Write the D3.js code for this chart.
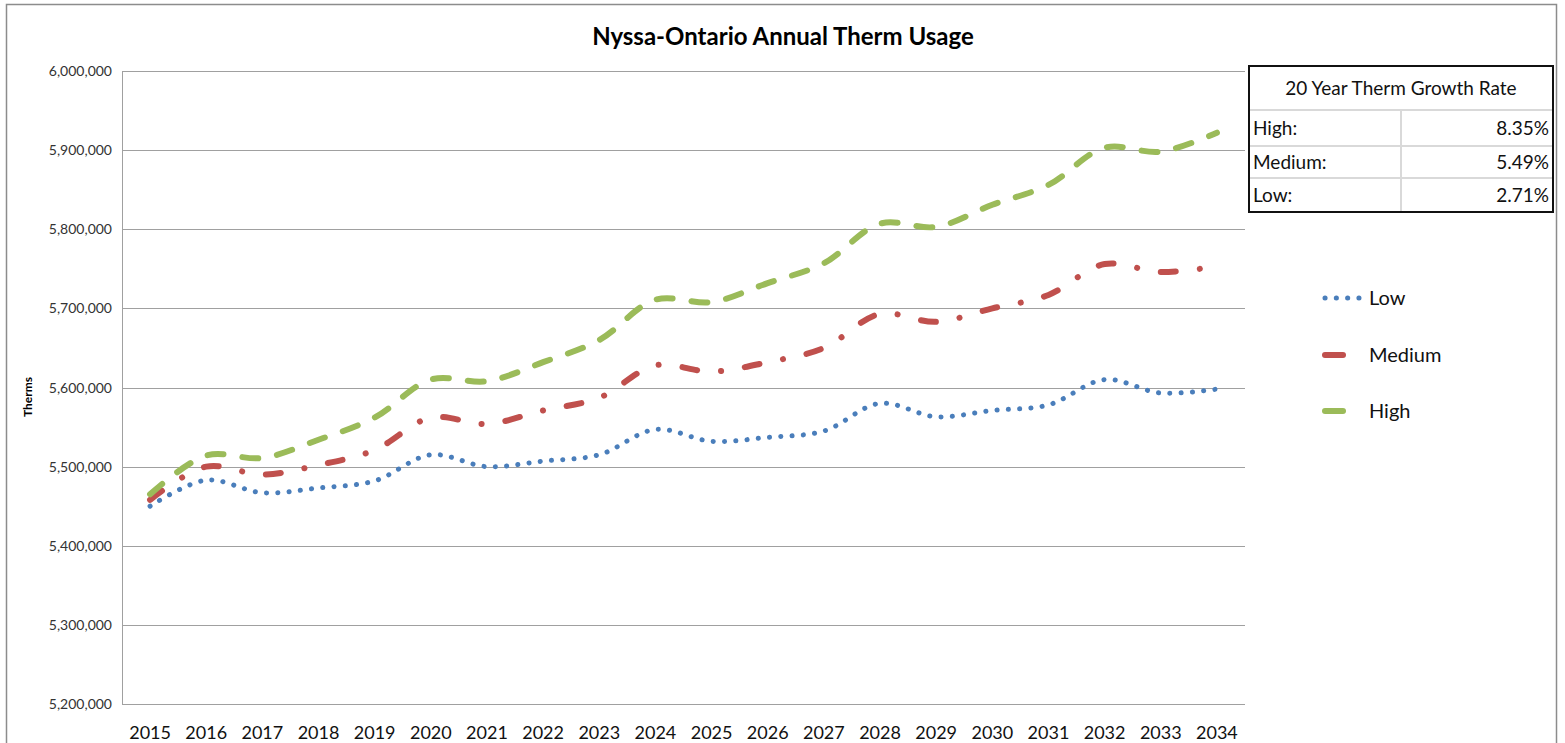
<!DOCTYPE html>
<html>
<head>
<meta charset="utf-8">
<script src="https://cdn.jsdelivr.net/npm/d3@7"></script>
<style>
  body { margin: 0; background: #fff; }
  svg { display: block; font-family: Lato, "Open Sans", sans-serif; }
</style>
</head>
<body>
<svg id="chart" width="1565" height="743"></svg>
<script>
const years = d3.range(2015, 2035).map(String);

const lowValues = [5450000, 5483000, 5467000, 5473000, 5482000, 5515000, 5500000, 5507000, 5515000, 5547000,
  5532000, 5537000, 5545000, 5580000, 5563000, 5571000, 5578000, 5610000, 5593000, 5598000];
const mediumValues = [5458000, 5500000, 5490000, 5502000, 5521000, 5562000, 5554000, 5571000, 5587000, 5628000,
  5620000, 5632000, 5650000, 5693000, 5683000, 5700000, 5717000, 5756000, 5746000, 5753000];
const highValues = [5465000, 5514000, 5511000, 5534000, 5562000, 5610000, 5608000, 5632000, 5660000, 5711000,
  5708000, 5732000, 5757000, 5807000, 5803000, 5831000, 5856000, 5903000, 5898000, 5922000];

const yTicks = [5200000, 5300000, 5400000, 5500000, 5600000, 5700000, 5800000, 5900000, 6000000];

const growthRows = [
  { label: "High:", rate: "8.35%" },
  { label: "Medium:", rate: "5.49%" },
  { label: "Low:", rate: "2.71%" }
];

const series = [
  { name: "Low", values: lowValues, color: "#4a7ebb", width: 5, dash: "0.1,11.2" },
  { name: "Medium", values: mediumValues, color: "#c0504d", width: 6, dash: "15,24,0.1,24" },
  { name: "High", values: highValues, color: "#9bbb59", width: 6, dash: "16,19" }
];

const margin = { top: 71, right: 320, bottom: 39, left: 122 };
const W = 1565, H = 743;
const width = W - margin.left - margin.right;
const height = H - margin.top - margin.bottom;

const svg = d3.select("#chart");

// outer chart frame
svg.append("rect")
  .attr("x", 6.5).attr("y", 4.5)
  .attr("width", 1550).attr("height", 760)
  .attr("fill", "#fff")
  .attr("stroke", "#8c8c8c")
  .attr("stroke-width", 1.5);

const g = svg.append("g").attr("transform", `translate(${margin.left},${margin.top})`);

const x = d3.scalePoint().domain(years).range([0, width]).padding(0.5);
const y = d3.scaleLinear().domain([5200000, 6000000]).range([height, 0]);

// gridlines
g.selectAll(".grid")
  .data(yTicks)
  .enter()
  .append("line")
  .attr("x1", 0).attr("x2", width)
  .attr("y1", d => Math.round(y(d)) + 0.5)
  .attr("y2", d => Math.round(y(d)) + 0.5)
  .attr("stroke", "#a0a0a0")
  .attr("stroke-width", 1);

g.append("line")
  .attr("x1", 0.5).attr("x2", 0.5)
  .attr("y1", 0).attr("y2", height)
  .attr("stroke", "#a0a0a0");

// y tick labels
const fmt = d3.format(",");
g.selectAll(".ylab")
  .data(yTicks)
  .enter()
  .append("text")
  .attr("x", -10)
  .attr("y", d => y(d) + 5)
  .attr("text-anchor", "end")
  .style("font-size", "14px")
  .style("fill", "#333")
  .text(d => fmt(d));

// x tick labels
g.selectAll(".xlab")
  .data(years)
  .enter()
  .append("text")
  .attr("x", d => x(d))
  .attr("y", height + 35)
  .attr("text-anchor", "middle")
  .style("font-size", "18px")
  .style("fill", "#111")
  .text(d => d);

// y axis title
svg.append("text")
  .attr("transform", "translate(32,397) rotate(-90)")
  .attr("text-anchor", "middle")
  .style("font-size", "12px")
  .style("font-weight", "700")
  .text("Therms");

// title
svg.append("text")
  .attr("x", 783).attr("y", 45)
  .attr("text-anchor", "middle")
  .style("font-size", "24px")
  .style("font-weight", "700")
  .text("Nyssa-Ontario Annual Therm Usage");

// lines
const line = d3.line()
  .x((d, i) => x(years[i]))
  .y(d => y(d))
  .curve(d3.curveCatmullRom.alpha(0.5));

g.selectAll(".series")
  .data(series)
  .enter()
  .append("path")
  .attr("d", d => line(d.values))
  .attr("fill", "none")
  .attr("stroke", d => d.color)
  .attr("stroke-width", d => d.width)
  .attr("stroke-linecap", "round")
  .attr("stroke-dasharray", d => d.dash);

// growth rate table
const tbl = svg.append("g").attr("transform", "translate(1249,66)");
const tW = 304, colX = 152;
const rowY = [0, 44, 80, 112, 146];

tbl.append("rect")
  .attr("width", tW).attr("height", rowY[4])
  .attr("fill", "#fff");

[1, 2, 3].forEach(i => {
  tbl.append("line")
    .attr("x1", 0).attr("x2", tW)
    .attr("y1", rowY[i]).attr("y2", rowY[i])
    .attr("stroke", "#d9d9d9").attr("stroke-width", 2);
});
tbl.append("line")
  .attr("x1", colX).attr("x2", colX)
  .attr("y1", rowY[1]).attr("y2", rowY[4])
  .attr("stroke", "#d9d9d9").attr("stroke-width", 2);

tbl.append("rect")
  .attr("width", tW).attr("height", rowY[4])
  .attr("fill", "none")
  .attr("stroke", "#111").attr("stroke-width", 2);

tbl.append("text")
  .attr("x", tW / 2).attr("y", 29)
  .attr("text-anchor", "middle")
  .style("font-size", "19px")
  .style("fill", "#111")
  .text("20 Year Therm Growth Rate");

growthRows.forEach((r, i) => {
  const cy = (rowY[i + 1] + rowY[i + 2]) / 2 + 7;
  tbl.append("text")
    .attr("x", 4).attr("y", cy)
    .style("font-size", "19px")
    .style("fill", "#111")
    .text(r.label);
  tbl.append("text")
    .attr("x", tW - 4).attr("y", cy)
    .attr("text-anchor", "end")
    .style("font-size", "19px")
    .style("fill", "#111")
    .text(r.rate);
});

// legend
const legendY = [298, 355, 411];
series.forEach((s, i) => {
  const ly = legendY[i];
  if (s.name === "Low") {
    svg.append("line")
      .attr("x1", 1325).attr("x2", 1362)
      .attr("y1", ly).attr("y2", ly)
      .attr("stroke", s.color).attr("stroke-width", s.width)
      .attr("stroke-linecap", "round")
      .attr("stroke-dasharray", s.dash);
  } else {
    svg.append("line")
      .attr("x1", 1325).attr("x2", 1343)
      .attr("y1", ly).attr("y2", ly)
      .attr("stroke", s.color).attr("stroke-width", s.width)
      .attr("stroke-linecap", "round");
  }
  svg.append("text")
    .attr("x", 1369).attr("y", ly + 7)
    .style("font-size", "20px")
    .style("fill", "#111")
    .text(s.name);
});
</script>
</body>
</html>
